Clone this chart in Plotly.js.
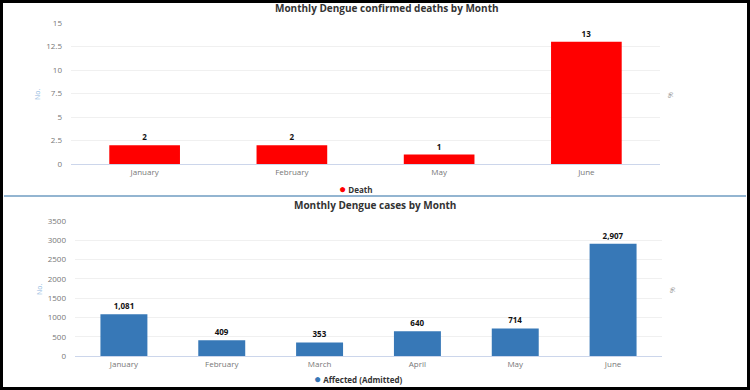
<!DOCTYPE html>
<html><head><meta charset="utf-8">
<script src="https://cdn.plot.ly/plotly-3.0.1.min.js"></script>
<style>html,body{margin:0;padding:0;background:#fff;width:750px;height:390px;overflow:hidden}#c{width:750px;height:390px;display:block}</style>
</head><body><div id="c"></div>
<script>
// Top chart: confirmed deaths
const deathMonths = ["January", "February", "May", "June"];
const deathValues = [2, 2, 1, 13];
const deathTicks = [0, 2.5, 5, 7.5, 10, 12.5, 15];
const deathSeries = "Death";
// Bottom chart: cases (admitted)
const caseMonths = ["January", "February", "March", "April", "May", "June"];
const caseValues = [1081, 409, 353, 640, 714, 2907];
const caseTicks = [0, 500, 1000, 1500, 2000, 2500, 3000, 3500];
const caseSeries = "Affected (Admitted)";

const FONT = "Open Sans, Noto Sans, sans-serif";
const tickFont = {family: FONT, size: 8, color: "#777"};
const labelFont = {family: FONT, size: 8, color: "#111", weight: "bold"};
const RED = "#ff0000", BLUE = "#3778b7";

const traces = [
  {type: "bar", x: deathMonths, y: deathValues, xaxis: "x", yaxis: "y", name: deathSeries,
   marker: {color: RED}, showlegend: false,
   texttemplate: "<b>%{y:,}</b>", textposition: "outside",
   textfont: labelFont, cliponaxis: false},
  {type: "bar", x: caseMonths, y: caseValues, xaxis: "x2", yaxis: "y2", name: caseSeries,
   marker: {color: BLUE}, showlegend: false,
   texttemplate: "<b>%{y:,}</b>", textposition: "outside",
   textfont: labelFont, cliponaxis: false}
];

function catAxis(domain, anchor) {
  return {domain: domain, anchor: anchor, type: "category", showgrid: false,
    showline: true, linecolor: "#ccd6eb", linewidth: 1, ticks: "", tickfont: tickFont,
    fixedrange: true, zeroline: false};
}
function tickAxis(domain, anchor, overlay, n) {
  return {domain: domain, anchor: anchor, overlaying: overlay, range: [-0.5, n - 0.5],
    tickmode: "array", tickvals: Array.from({length: n + 1}, (_, i) => i - 0.5),
    showticklabels: false, ticks: "outside", ticklen: 6, tickcolor: "#ccd6eb",
    showgrid: false, zeroline: false, showline: false, fixedrange: true};
}
function valAxis(domain, anchor, ticks) {
  return {domain: domain, anchor: anchor, range: [ticks[0], ticks[ticks.length - 1]],
    tickmode: "array", tickvals: ticks, ticktext: ticks.map(String),
    showgrid: true, gridcolor: "#f0f0f0", gridwidth: 1, zeroline: false,
    showline: false, tickfont: tickFont, ticklabelstandoff: 8, fixedrange: true};
}

const topX = [71 / 750, 660 / 750], topY = [1 - 164 / 390, 1 - 23 / 390];
const botX = [75 / 750, 662 / 750], botY = [1 - 356 / 390, 1 - 221 / 390];
const py = (p) => 1 - p / 390, px = (p) => p / 750;

function legendText(color, name) {
  return "<span style='color:" + color + ";font-size:12px'>●</span> <b>" + name + "</b>";
}

const layout = {
  width: 750, height: 390,
  margin: {l: 0, r: 0, t: 0, b: 0},
  paper_bgcolor: "#fff", plot_bgcolor: "#fff",
  font: {family: FONT},
  separators: ".,",
  bargap: 0.52,
  showlegend: false,
  xaxis: catAxis(topX, "y"),
  yaxis: valAxis(topY, "x", deathTicks),
  xaxis2: catAxis(botX, "y2"),
  yaxis2: valAxis(botY, "x2", caseTicks),
  xaxis3: tickAxis(topX, "y", "x", deathMonths.length),
  xaxis4: tickAxis(botX, "y2", "x2", caseMonths.length),
  annotations: [
    {text: "<b>Monthly Dengue confirmed deaths by Month</b>", xref: "paper", yref: "paper",
     x: px(387), y: py(8), xanchor: "center", yanchor: "middle", showarrow: false,
     font: {family: FONT, size: 10, color: "#333"}},
    {text: "<b>Monthly Dengue cases by Month</b>", xref: "paper", yref: "paper",
     x: px(375), y: py(205), xanchor: "center", yanchor: "middle", showarrow: false,
     font: {family: FONT, size: 10, color: "#333"}},
    {text: "No.", xref: "paper", yref: "paper", x: px(37), y: py(95), textangle: -90,
     xanchor: "center", yanchor: "middle", showarrow: false, font: {family: FONT, size: 7, color: "#8fb8e0"}},
    {text: "%", xref: "paper", yref: "paper", x: px(670), y: py(95), textangle: -90,
     xanchor: "center", yanchor: "middle", showarrow: false, font: {family: FONT, size: 7, color: "#999"}},
    {text: "No.", xref: "paper", yref: "paper", x: px(39), y: py(290), textangle: -90,
     xanchor: "center", yanchor: "middle", showarrow: false, font: {family: FONT, size: 7, color: "#8fb8e0"}},
    {text: "%", xref: "paper", yref: "paper", x: px(672), y: py(290), textangle: -90,
     xanchor: "center", yanchor: "middle", showarrow: false, font: {family: FONT, size: 7, color: "#999"}},
    {text: legendText(RED, deathSeries), xref: "paper", yref: "paper", x: px(337), y: py(188),
     xanchor: "left", yanchor: "middle", showarrow: false, font: {family: FONT, size: 8, color: "#333"}},
    {text: legendText(BLUE, caseSeries), xref: "paper", yref: "paper", x: px(312), y: py(378),
     xanchor: "left", yanchor: "middle", showarrow: false, font: {family: FONT, size: 8, color: "#333"}}
  ],
  shapes: [
    {type: "line", xref: "paper", yref: "paper", x0: px(4), x1: px(746),
     y0: py(196), y1: py(196), line: {color: "#6f9cc2", width: 1.5}},
    {type: "rect", xref: "paper", yref: "paper", x0: 0, x1: 1, y0: 0, y1: 1,
     line: {color: "#000", width: 6}, layer: "above"}
  ]
};

Plotly.newPlot("c", traces, layout, {displayModeBar: false, staticPlot: true});
</script>
</body></html>
